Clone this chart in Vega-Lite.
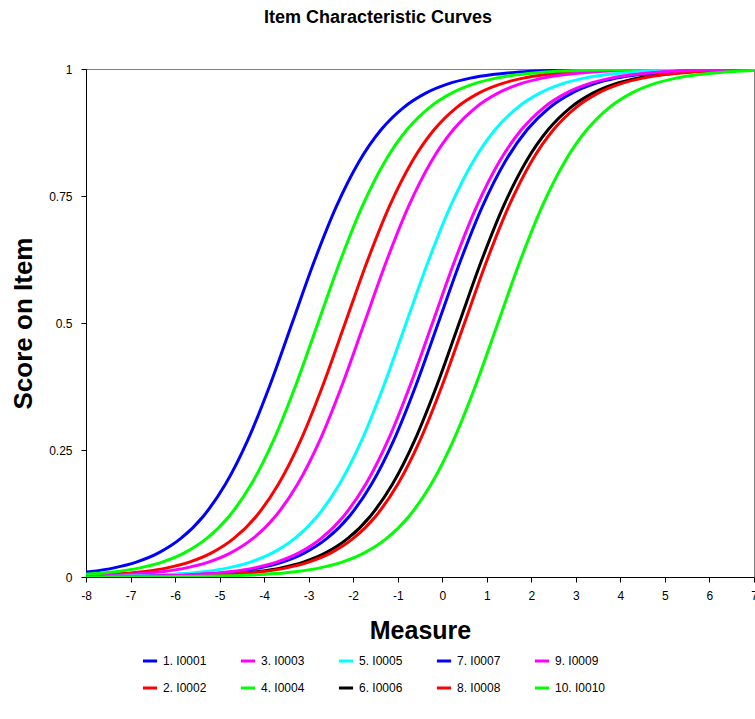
{
"$schema": "https://vega.github.io/schema/vega-lite/v6.json",
"autosize": "none",
"width": 668,
"height": 508,
"padding": {"left": 86, "top": 69, "right": 1, "bottom": 142},
"background": "white",
"config": {
  "font": "Liberation Sans",
  "view": {"stroke": "#808080", "strokeWidth": 1},
  "axis": {"grid": false, "domainColor": "black", "tickColor": "black", "labelColor": "black", "titleColor": "black", "labelFont": "Liberation Sans", "titleFont": "Liberation Sans"}
},
"title": {"text": "Item Characteristic Curves", "fontSize": 18, "fontWeight": "bold", "font": "Liberation Sans", "color": "black", "anchor": "middle", "dx": -42, "offset": 36},
"data": {"values": [
{"item":"1. I0001","x":-8.37,"p":0.00669},{"item":"1. I0001","x":-7.87,"p":0.01099},{"item":"1. I0001","x":-7.37,"p":0.01799},{"item":"1. I0001","x":-6.87,"p":0.02931},{"item":"1. I0001","x":-6.37,"p":0.04743},{"item":"1. I0001","x":-5.87,"p":0.07586},{"item":"1. I0001","x":-5.37,"p":0.1192},{"item":"1. I0001","x":-4.87,"p":0.18243},{"item":"1. I0001","x":-4.37,"p":0.26894},{"item":"1. I0001","x":-3.87,"p":0.37754},{"item":"1. I0001","x":-3.37,"p":0.5},{"item":"1. I0001","x":-2.87,"p":0.62246},{"item":"1. I0001","x":-2.37,"p":0.73106},{"item":"1. I0001","x":-1.87,"p":0.81757},{"item":"1. I0001","x":-1.37,"p":0.8808},{"item":"1. I0001","x":-0.87,"p":0.92414},{"item":"1. I0001","x":-0.37,"p":0.95257},{"item":"1. I0001","x":0.13,"p":0.97069},{"item":"1. I0001","x":0.63,"p":0.98201},{"item":"1. I0001","x":1.13,"p":0.98901},{"item":"1. I0001","x":1.63,"p":0.99331},{"item":"1. I0001","x":2.13,"p":0.99593},{"item":"1. I0001","x":2.63,"p":0.99753},{"item":"1. I0001","x":3.13,"p":0.9985},{"item":"1. I0001","x":3.63,"p":0.99909},{"item":"1. I0001","x":4.13,"p":0.99945},{"item":"1. I0001","x":4.63,"p":0.99966},{"item":"1. I0001","x":5.13,"p":0.9998},{"item":"1. I0001","x":5.63,"p":0.99988},{"item":"1. I0001","x":6.13,"p":0.99993},{"item":"1. I0001","x":6.63,"p":0.99995},{"item":"1. I0001","x":7.13,"p":0.99997},
{"item":"2. I0002","x":-8.18,"p":0.00247},{"item":"2. I0002","x":-7.68,"p":0.00407},{"item":"2. I0002","x":-7.18,"p":0.00669},{"item":"2. I0002","x":-6.68,"p":0.01099},{"item":"2. I0002","x":-6.18,"p":0.01799},{"item":"2. I0002","x":-5.68,"p":0.02931},{"item":"2. I0002","x":-5.18,"p":0.04743},{"item":"2. I0002","x":-4.68,"p":0.07586},{"item":"2. I0002","x":-4.18,"p":0.1192},{"item":"2. I0002","x":-3.68,"p":0.18243},{"item":"2. I0002","x":-3.18,"p":0.26894},{"item":"2. I0002","x":-2.68,"p":0.37754},{"item":"2. I0002","x":-2.18,"p":0.5},{"item":"2. I0002","x":-1.68,"p":0.62246},{"item":"2. I0002","x":-1.18,"p":0.73106},{"item":"2. I0002","x":-0.68,"p":0.81757},{"item":"2. I0002","x":-0.18,"p":0.8808},{"item":"2. I0002","x":0.32,"p":0.92414},{"item":"2. I0002","x":0.82,"p":0.95257},{"item":"2. I0002","x":1.32,"p":0.97069},{"item":"2. I0002","x":1.82,"p":0.98201},{"item":"2. I0002","x":2.32,"p":0.98901},{"item":"2. I0002","x":2.82,"p":0.99331},{"item":"2. I0002","x":3.32,"p":0.99593},{"item":"2. I0002","x":3.82,"p":0.99753},{"item":"2. I0002","x":4.32,"p":0.9985},{"item":"2. I0002","x":4.82,"p":0.99909},{"item":"2. I0002","x":5.32,"p":0.99945},{"item":"2. I0002","x":5.82,"p":0.99966},{"item":"2. I0002","x":6.32,"p":0.9998},{"item":"2. I0002","x":6.82,"p":0.99988},{"item":"2. I0002","x":7.32,"p":0.99993},
{"item":"3. I0003","x":-8.25,"p":0.0015},{"item":"3. I0003","x":-7.75,"p":0.00247},{"item":"3. I0003","x":-7.25,"p":0.00407},{"item":"3. I0003","x":-6.75,"p":0.00669},{"item":"3. I0003","x":-6.25,"p":0.01099},{"item":"3. I0003","x":-5.75,"p":0.01799},{"item":"3. I0003","x":-5.25,"p":0.02931},{"item":"3. I0003","x":-4.75,"p":0.04743},{"item":"3. I0003","x":-4.25,"p":0.07586},{"item":"3. I0003","x":-3.75,"p":0.1192},{"item":"3. I0003","x":-3.25,"p":0.18243},{"item":"3. I0003","x":-2.75,"p":0.26894},{"item":"3. I0003","x":-2.25,"p":0.37754},{"item":"3. I0003","x":-1.75,"p":0.5},{"item":"3. I0003","x":-1.25,"p":0.62246},{"item":"3. I0003","x":-0.75,"p":0.73106},{"item":"3. I0003","x":-0.25,"p":0.81757},{"item":"3. I0003","x":0.25,"p":0.8808},{"item":"3. I0003","x":0.75,"p":0.92414},{"item":"3. I0003","x":1.25,"p":0.95257},{"item":"3. I0003","x":1.75,"p":0.97069},{"item":"3. I0003","x":2.25,"p":0.98201},{"item":"3. I0003","x":2.75,"p":0.98901},{"item":"3. I0003","x":3.25,"p":0.99331},{"item":"3. I0003","x":3.75,"p":0.99593},{"item":"3. I0003","x":4.25,"p":0.99753},{"item":"3. I0003","x":4.75,"p":0.9985},{"item":"3. I0003","x":5.25,"p":0.99909},{"item":"3. I0003","x":5.75,"p":0.99945},{"item":"3. I0003","x":6.25,"p":0.99966},{"item":"3. I0003","x":6.75,"p":0.9998},{"item":"3. I0003","x":7.25,"p":0.99988},
{"item":"4. I0004","x":-8.29,"p":0.00407},{"item":"4. I0004","x":-7.79,"p":0.00669},{"item":"4. I0004","x":-7.29,"p":0.01099},{"item":"4. I0004","x":-6.79,"p":0.01799},{"item":"4. I0004","x":-6.29,"p":0.02931},{"item":"4. I0004","x":-5.79,"p":0.04743},{"item":"4. I0004","x":-5.29,"p":0.07586},{"item":"4. I0004","x":-4.79,"p":0.1192},{"item":"4. I0004","x":-4.29,"p":0.18243},{"item":"4. I0004","x":-3.79,"p":0.26894},{"item":"4. I0004","x":-3.29,"p":0.37754},{"item":"4. I0004","x":-2.79,"p":0.5},{"item":"4. I0004","x":-2.29,"p":0.62246},{"item":"4. I0004","x":-1.79,"p":0.73106},{"item":"4. I0004","x":-1.29,"p":0.81757},{"item":"4. I0004","x":-0.79,"p":0.8808},{"item":"4. I0004","x":-0.29,"p":0.92414},{"item":"4. I0004","x":0.21,"p":0.95257},{"item":"4. I0004","x":0.71,"p":0.97069},{"item":"4. I0004","x":1.21,"p":0.98201},{"item":"4. I0004","x":1.71,"p":0.98901},{"item":"4. I0004","x":2.21,"p":0.99331},{"item":"4. I0004","x":2.71,"p":0.99593},{"item":"4. I0004","x":3.21,"p":0.99753},{"item":"4. I0004","x":3.71,"p":0.9985},{"item":"4. I0004","x":4.21,"p":0.99909},{"item":"4. I0004","x":4.71,"p":0.99945},{"item":"4. I0004","x":5.21,"p":0.99966},{"item":"4. I0004","x":5.71,"p":0.9998},{"item":"4. I0004","x":6.21,"p":0.99988},{"item":"4. I0004","x":6.71,"p":0.99993},{"item":"4. I0004","x":7.21,"p":0.99995},
{"item":"5. I0005","x":-8.31,"p":0.00055},{"item":"5. I0005","x":-7.81,"p":0.00091},{"item":"5. I0005","x":-7.31,"p":0.0015},{"item":"5. I0005","x":-6.81,"p":0.00247},{"item":"5. I0005","x":-6.31,"p":0.00407},{"item":"5. I0005","x":-5.81,"p":0.00669},{"item":"5. I0005","x":-5.31,"p":0.01099},{"item":"5. I0005","x":-4.81,"p":0.01799},{"item":"5. I0005","x":-4.31,"p":0.02931},{"item":"5. I0005","x":-3.81,"p":0.04743},{"item":"5. I0005","x":-3.31,"p":0.07586},{"item":"5. I0005","x":-2.81,"p":0.1192},{"item":"5. I0005","x":-2.31,"p":0.18243},{"item":"5. I0005","x":-1.81,"p":0.26894},{"item":"5. I0005","x":-1.31,"p":0.37754},{"item":"5. I0005","x":-0.81,"p":0.5},{"item":"5. I0005","x":-0.31,"p":0.62246},{"item":"5. I0005","x":0.19,"p":0.73106},{"item":"5. I0005","x":0.69,"p":0.81757},{"item":"5. I0005","x":1.19,"p":0.8808},{"item":"5. I0005","x":1.69,"p":0.92414},{"item":"5. I0005","x":2.19,"p":0.95257},{"item":"5. I0005","x":2.69,"p":0.97069},{"item":"5. I0005","x":3.19,"p":0.98201},{"item":"5. I0005","x":3.69,"p":0.98901},{"item":"5. I0005","x":4.19,"p":0.99331},{"item":"5. I0005","x":4.69,"p":0.99593},{"item":"5. I0005","x":5.19,"p":0.99753},{"item":"5. I0005","x":5.69,"p":0.9985},{"item":"5. I0005","x":6.19,"p":0.99909},{"item":"5. I0005","x":6.69,"p":0.99945},{"item":"5. I0005","x":7.19,"p":0.99966},
{"item":"6. I0006","x":-8.12,"p":0.0002},{"item":"6. I0006","x":-7.62,"p":0.00034},{"item":"6. I0006","x":-7.12,"p":0.00055},{"item":"6. I0006","x":-6.62,"p":0.00091},{"item":"6. I0006","x":-6.12,"p":0.0015},{"item":"6. I0006","x":-5.62,"p":0.00247},{"item":"6. I0006","x":-5.12,"p":0.00407},{"item":"6. I0006","x":-4.62,"p":0.00669},{"item":"6. I0006","x":-4.12,"p":0.01099},{"item":"6. I0006","x":-3.62,"p":0.01799},{"item":"6. I0006","x":-3.12,"p":0.02931},{"item":"6. I0006","x":-2.62,"p":0.04743},{"item":"6. I0006","x":-2.12,"p":0.07586},{"item":"6. I0006","x":-1.62,"p":0.1192},{"item":"6. I0006","x":-1.12,"p":0.18243},{"item":"6. I0006","x":-0.62,"p":0.26894},{"item":"6. I0006","x":-0.12,"p":0.37754},{"item":"6. I0006","x":0.38,"p":0.5},{"item":"6. I0006","x":0.88,"p":0.62246},{"item":"6. I0006","x":1.38,"p":0.73106},{"item":"6. I0006","x":1.88,"p":0.81757},{"item":"6. I0006","x":2.38,"p":0.8808},{"item":"6. I0006","x":2.88,"p":0.92414},{"item":"6. I0006","x":3.38,"p":0.95257},{"item":"6. I0006","x":3.88,"p":0.97069},{"item":"6. I0006","x":4.38,"p":0.98201},{"item":"6. I0006","x":4.88,"p":0.98901},{"item":"6. I0006","x":5.38,"p":0.99331},{"item":"6. I0006","x":5.88,"p":0.99593},{"item":"6. I0006","x":6.38,"p":0.99753},{"item":"6. I0006","x":6.88,"p":0.9985},{"item":"6. I0006","x":7.38,"p":0.99909},
{"item":"7. I0007","x":-8.09,"p":0.00034},{"item":"7. I0007","x":-7.59,"p":0.00055},{"item":"7. I0007","x":-7.09,"p":0.00091},{"item":"7. I0007","x":-6.59,"p":0.0015},{"item":"7. I0007","x":-6.09,"p":0.00247},{"item":"7. I0007","x":-5.59,"p":0.00407},{"item":"7. I0007","x":-5.09,"p":0.00669},{"item":"7. I0007","x":-4.59,"p":0.01099},{"item":"7. I0007","x":-4.09,"p":0.01799},{"item":"7. I0007","x":-3.59,"p":0.02931},{"item":"7. I0007","x":-3.09,"p":0.04743},{"item":"7. I0007","x":-2.59,"p":0.07586},{"item":"7. I0007","x":-2.09,"p":0.1192},{"item":"7. I0007","x":-1.59,"p":0.18243},{"item":"7. I0007","x":-1.09,"p":0.26894},{"item":"7. I0007","x":-0.59,"p":0.37754},{"item":"7. I0007","x":-0.09,"p":0.5},{"item":"7. I0007","x":0.41,"p":0.62246},{"item":"7. I0007","x":0.91,"p":0.73106},{"item":"7. I0007","x":1.41,"p":0.81757},{"item":"7. I0007","x":1.91,"p":0.8808},{"item":"7. I0007","x":2.41,"p":0.92414},{"item":"7. I0007","x":2.91,"p":0.95257},{"item":"7. I0007","x":3.41,"p":0.97069},{"item":"7. I0007","x":3.91,"p":0.98201},{"item":"7. I0007","x":4.41,"p":0.98901},{"item":"7. I0007","x":4.91,"p":0.99331},{"item":"7. I0007","x":5.41,"p":0.99593},{"item":"7. I0007","x":5.91,"p":0.99753},{"item":"7. I0007","x":6.41,"p":0.9985},{"item":"7. I0007","x":6.91,"p":0.99909},{"item":"7. I0007","x":7.41,"p":0.99945},
{"item":"8. I0008","x":-8,"p":0.0002},{"item":"8. I0008","x":-7.5,"p":0.00034},{"item":"8. I0008","x":-7,"p":0.00055},{"item":"8. I0008","x":-6.5,"p":0.00091},{"item":"8. I0008","x":-6,"p":0.0015},{"item":"8. I0008","x":-5.5,"p":0.00247},{"item":"8. I0008","x":-5,"p":0.00407},{"item":"8. I0008","x":-4.5,"p":0.00669},{"item":"8. I0008","x":-4,"p":0.01099},{"item":"8. I0008","x":-3.5,"p":0.01799},{"item":"8. I0008","x":-3,"p":0.02931},{"item":"8. I0008","x":-2.5,"p":0.04743},{"item":"8. I0008","x":-2,"p":0.07586},{"item":"8. I0008","x":-1.5,"p":0.1192},{"item":"8. I0008","x":-1,"p":0.18243},{"item":"8. I0008","x":-0.5,"p":0.26894},{"item":"8. I0008","x":0,"p":0.37754},{"item":"8. I0008","x":0.5,"p":0.5},{"item":"8. I0008","x":1,"p":0.62246},{"item":"8. I0008","x":1.5,"p":0.73106},{"item":"8. I0008","x":2,"p":0.81757},{"item":"8. I0008","x":2.5,"p":0.8808},{"item":"8. I0008","x":3,"p":0.92414},{"item":"8. I0008","x":3.5,"p":0.95257},{"item":"8. I0008","x":4,"p":0.97069},{"item":"8. I0008","x":4.5,"p":0.98201},{"item":"8. I0008","x":5,"p":0.98901},{"item":"8. I0008","x":5.5,"p":0.99331},{"item":"8. I0008","x":6,"p":0.99593},{"item":"8. I0008","x":6.5,"p":0.99753},{"item":"8. I0008","x":7,"p":0.9985},
{"item":"9. I0009","x":-8.22,"p":0.00034},{"item":"9. I0009","x":-7.72,"p":0.00055},{"item":"9. I0009","x":-7.22,"p":0.00091},{"item":"9. I0009","x":-6.72,"p":0.0015},{"item":"9. I0009","x":-6.22,"p":0.00247},{"item":"9. I0009","x":-5.72,"p":0.00407},{"item":"9. I0009","x":-5.22,"p":0.00669},{"item":"9. I0009","x":-4.72,"p":0.01099},{"item":"9. I0009","x":-4.22,"p":0.01799},{"item":"9. I0009","x":-3.72,"p":0.02931},{"item":"9. I0009","x":-3.22,"p":0.04743},{"item":"9. I0009","x":-2.72,"p":0.07586},{"item":"9. I0009","x":-2.22,"p":0.1192},{"item":"9. I0009","x":-1.72,"p":0.18243},{"item":"9. I0009","x":-1.22,"p":0.26894},{"item":"9. I0009","x":-0.72,"p":0.37754},{"item":"9. I0009","x":-0.22,"p":0.5},{"item":"9. I0009","x":0.28,"p":0.62246},{"item":"9. I0009","x":0.78,"p":0.73106},{"item":"9. I0009","x":1.28,"p":0.81757},{"item":"9. I0009","x":1.78,"p":0.8808},{"item":"9. I0009","x":2.28,"p":0.92414},{"item":"9. I0009","x":2.78,"p":0.95257},{"item":"9. I0009","x":3.28,"p":0.97069},{"item":"9. I0009","x":3.78,"p":0.98201},{"item":"9. I0009","x":4.28,"p":0.98901},{"item":"9. I0009","x":4.78,"p":0.99331},{"item":"9. I0009","x":5.28,"p":0.99593},{"item":"9. I0009","x":5.78,"p":0.99753},{"item":"9. I0009","x":6.28,"p":0.9985},{"item":"9. I0009","x":6.78,"p":0.99909},{"item":"9. I0009","x":7.28,"p":0.99945},
{"item":"10. I0010","x":-8.25,"p":0.00007},{"item":"10. I0010","x":-7.75,"p":0.00012},{"item":"10. I0010","x":-7.25,"p":0.0002},{"item":"10. I0010","x":-6.75,"p":0.00034},{"item":"10. I0010","x":-6.25,"p":0.00055},{"item":"10. I0010","x":-5.75,"p":0.00091},{"item":"10. I0010","x":-5.25,"p":0.0015},{"item":"10. I0010","x":-4.75,"p":0.00247},{"item":"10. I0010","x":-4.25,"p":0.00407},{"item":"10. I0010","x":-3.75,"p":0.00669},{"item":"10. I0010","x":-3.25,"p":0.01099},{"item":"10. I0010","x":-2.75,"p":0.01799},{"item":"10. I0010","x":-2.25,"p":0.02931},{"item":"10. I0010","x":-1.75,"p":0.04743},{"item":"10. I0010","x":-1.25,"p":0.07586},{"item":"10. I0010","x":-0.75,"p":0.1192},{"item":"10. I0010","x":-0.25,"p":0.18243},{"item":"10. I0010","x":0.25,"p":0.26894},{"item":"10. I0010","x":0.75,"p":0.37754},{"item":"10. I0010","x":1.25,"p":0.5},{"item":"10. I0010","x":1.75,"p":0.62246},{"item":"10. I0010","x":2.25,"p":0.73106},{"item":"10. I0010","x":2.75,"p":0.81757},{"item":"10. I0010","x":3.25,"p":0.8808},{"item":"10. I0010","x":3.75,"p":0.92414},{"item":"10. I0010","x":4.25,"p":0.95257},{"item":"10. I0010","x":4.75,"p":0.97069},{"item":"10. I0010","x":5.25,"p":0.98201},{"item":"10. I0010","x":5.75,"p":0.98901},{"item":"10. I0010","x":6.25,"p":0.99331},{"item":"10. I0010","x":6.75,"p":0.99593},{"item":"10. I0010","x":7.25,"p":0.99753}
]},
"mark": {"type": "line", "clip": true, "interpolate": "monotone", "strokeWidth": 3},
"encoding": {
  "x": {"field": "x", "type": "quantitative", "scale": {"domain": [-8, 7], "nice": false, "zero": false},
        "axis": {"values": [-8,-7,-6,-5,-4,-3,-2,-1,0,1,2,3,4,5,6,7], "labelExpr": "datum.value + ''", "title": "Measure", "titleFontSize": 25, "titleFontWeight": "bold", "titleX": 334, "titleY": 53, "titleBaseline": "middle", "labelFontSize": 12, "labelPadding": 8, "tickSize": 5, "labelFlush": false}},
  "y": {"field": "p", "type": "quantitative", "scale": {"domain": [0, 1], "nice": false},
        "axis": {"values": [0, 0.25, 0.5, 0.75, 1], "format": ".2~f", "title": "Score on Item", "titleFontSize": 26, "titleFontWeight": "bold", "titleX": -63, "titleY": 254, "titleAngle": -90, "titleAlign": "center", "titleBaseline": "middle", "labelFontSize": 12, "labelPadding": 9, "tickSize": 5}},
  "color": {"field": "item", "type": "nominal",
    "scale": {"domain": ["1. I0001","3. I0003","5. I0005","7. I0007","9. I0009","2. I0002","4. I0004","6. I0006","8. I0008","10. I0010"],
              "range": ["#0000FF","#FF00FF","#00FFFF","#0000FF","#FF00FF","#FF0000","#00FF00","#000000","#FF0000","#00FF00"]},
    "legend": {"title": null, "orient": "none", "legendX": 55, "legendY": 583, "columns": 5, "direction": "horizontal", "symbolType": "stroke", "symbolStrokeWidth": 3, "symbolSize": 200, "labelFontSize": 12, "labelFont": "Liberation Sans", "labelColor": "black", "rowPadding": 12, "columnPadding": 20, "gridAlign": "all"}},
  "order": {"field": "x", "type": "quantitative"}
}
}
